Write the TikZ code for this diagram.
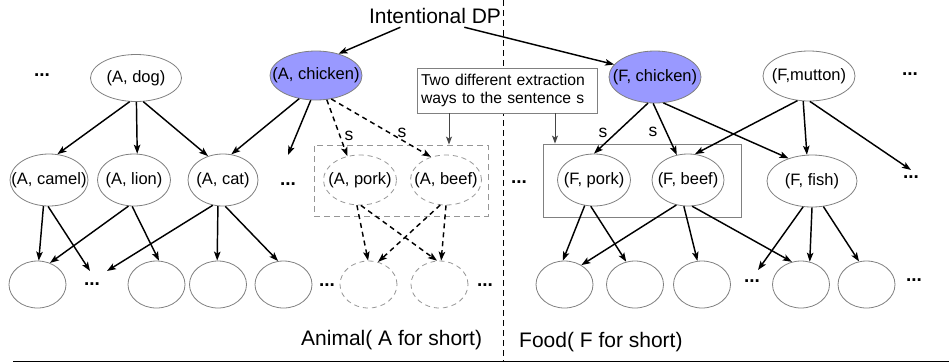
\documentclass[tikz,border=0pt]{standalone}
\usepackage{fontspec}
\setmainfont{Liberation Sans}
\usetikzlibrary{shapes.geometric,arrows.meta}
\definecolor{nodegray}{RGB}{128,128,128}
\definecolor{dashgray}{RGB}{150,150,150}
\definecolor{boxarrow}{RGB}{70,70,70}
\definecolor{chickfill}{RGB}{153,153,255}
\definecolor{baseline}{RGB}{192,192,192}
\newcommand{\zlab}[1]{\makebox[0pt]{#1}}
\begin{document}
\begin{tikzpicture}[x=1pt,y=-1pt,
  lblfont/.style={font=\fontsize{16.5}{18}\selectfont},
  ell/.style={ellipse, draw=nodegray, line width=0.8pt, inner sep=0pt, lblfont},
  dell/.style={ell, draw=dashgray, dash pattern=on 5pt off 4pt},
  leaf/.style={ell, minimum width=57pt, minimum height=47pt},
  dleaf/.style={dell, minimum width=57pt, minimum height=47pt},
  dots/.style={font=\fontsize{19}{20}\selectfont\bfseries, inner sep=0pt, anchor=base},
  arr/.style={-{Stealth[length=9pt,width=6.5pt,inset=2pt]}, line width=1.45pt, black},
  darr/.style={arr, dash pattern=on 5pt off 4pt},
  barr/.style={-{Stealth[length=8pt,width=6pt,inset=2pt]}, line width=1pt, boxarrow},
  slab/.style={font=\fontsize{17.5}{18}\selectfont, inner sep=0pt}
]
\useasboundingbox (0,0) rectangle (949,362);

% divider and base line
\draw[black, line width=0.9pt, dash pattern=on 6pt off 4pt] (503,0) -- (503,362);
\draw[baseline, line width=1.5pt] (13,361.3) -- (949,361.3);

% title
\node[font=\fontsize{21}{24}\selectfont] (dp) at (435,16) {Intentional DP};

% row 1
\node[ell, minimum width=91pt, minimum height=47pt] (dog) at (136,78) {\zlab{(A, dog)}};
\node[ell, fill=chickfill, minimum width=92pt, minimum height=49pt] (Ach) at (316,75.5) {\zlab{(A, chicken)}};
\node[ell, fill=chickfill, minimum width=92pt, minimum height=52pt] (Fch) at (655,77) {\zlab{(F, chicken)}};
\node[ell, minimum width=92pt, minimum height=50pt] (Fmu) at (809,76) {\zlab{(F,mutton)}};

% rectangles
\node[draw=dashgray, line width=0.9pt, dash pattern=on 6pt off 4pt, minimum width=174pt, minimum height=71pt, inner sep=0pt] (drect) at (401,180.5) {};
\node[draw=nodegray, line width=0.9pt, minimum width=198pt, minimum height=73pt, inner sep=0pt] (srect) at (642,180.5) {};
\node[draw=nodegray, line width=0.9pt, fill=white, text width=172pt, align=left, inner xsep=4pt, inner ysep=0pt, minimum height=45pt, font=\fontsize{15.7}{18}\selectfont] (info) at (507,90.5) {Two different extraction\\ways to the sentence s};

% row 2
\node[ell, minimum width=78pt, minimum height=52pt] (camel) at (49,180) {\zlab{(A, camel)}};
\node[ell, minimum width=73pt, minimum height=52pt] (lion) at (134,180) {\zlab{(A, lion)}};
\node[ell, minimum width=70pt, minimum height=52pt] (cat) at (223,180) {\zlab{(A, cat)}};
\node[dell, minimum width=73pt, minimum height=50pt] (Apork) at (360,180) {\zlab{(A, pork)}};
\node[dell, minimum width=71pt, minimum height=50pt] (Abeef) at (446,180) {\zlab{(A, beef)}};
\node[ell, minimum width=73pt, minimum height=52pt] (Fpork) at (594,180) {\zlab{(F, pork)}};
\node[ell, minimum width=72pt, minimum height=52pt] (Fbeef) at (688,180) {\zlab{(F, beef)}};
\node[ell, minimum width=90pt, minimum height=52pt] (Ffish) at (812,181) {\zlab{(F, fish)}};

% row 3
\node[leaf] (e1) at (37.5,284.5) {};
\node[leaf] (e2) at (156.5,284.5) {};
\node[leaf] (e3) at (218,284.5) {};
\node[leaf] (e4) at (283.5,284.5) {};
\node[dleaf] (e5) at (368.5,284.5) {};
\node[dleaf] (e6) at (439.5,284.5) {};
\node[leaf] (e7) at (564.5,284.5) {};
\node[leaf] (e8) at (635,284.5) {};
\node[leaf] (e9) at (702,284.5) {};
\node[leaf] (e10) at (801,284.5) {};
\node[leaf] (e11) at (866.5,284.5) {};

% dots
\node[dots] (d1) at (42,76) {...};
\node[dots] (d2) at (288,185) {...};
\node[dots] (d3) at (519,183) {...};
\node[dots] (d4) at (910,75) {...};
\node[dots] (d5) at (911,178) {...};
\node[dots] (d6) at (92,285) {...};
\node[dots] (d7) at (327,286) {...};
\node[dots] (d8) at (485,286) {...};
\node[dots] (d9) at (752,282) {...};
\node[dots] (d10) at (914,281) {...};

% free ends
\coordinate (c1) at (288,155);
\coordinate (c2) at (911,170);
\coordinate (c3) at (90,271);
\coordinate (c4) at (107,271);
\coordinate (c5) at (758,270);
\coordinate (a1) at (449,0);
\coordinate (a2) at (555,0);

% s labels
\node[slab] (s1) at (349,136) {s};
\node[slab] (s2) at (402,133) {s};
\node[slab] (s3) at (603,133) {s};
\node[slab] (s4) at (653,132) {s};

% bottom labels
\node[font=\fontsize{21}{24}\selectfont, anchor=west, inner sep=0pt] (anim) at (301,340) {Animal( A for short)};
\node[font=\fontsize{21}{24}\selectfont, anchor=west, inner sep=0pt] (food) at (519,342) {Food( F for short)};

% connectors
\draw[arr] (dp.-162) -- (Ach.44);
\draw[arr] (dp.-21) -- (Fch.163);
\draw[barr] (info.south -| a1) -- (drect.north -| a1);
\draw[barr] (info.south -| a2) -- (srect.north -| a2);

\draw[arr] (dog.-105) -- (camel.72);
\draw[arr] (dog.-89) -- (lion.83);
\draw[arr] (dog.-73) -- (cat.122);
\draw[arr] (Ach.-126) -- (cat.72);
\draw[arr] (Ach.-102) -- (c1);
\draw[darr] (Ach.-66) -- (Apork.118);
\draw[darr] (Ach.-57) -- (Abeef.123);
\draw[arr] (Fch.-105) -- (Fpork.90);
\draw[arr] (Fch.-94) -- (Fbeef.114);
\draw[arr] (Fch.-72) -- (Ffish.136);
\draw[arr] (Fmu.-115) -- (Fbeef.75);
\draw[arr] (Fmu.-103) -- (Ffish.101);
\draw[arr] (Fmu.-88) -- (c2);

\draw[arr] (camel.-102) -- (e1.87);
\draw[arr] (camel.-92) -- (c3);
\draw[arr] (lion.-102) -- (e1.60);
\draw[arr] (lion.-94) -- (e2.84);
\draw[arr] (cat.-112) -- (c4);
\draw[arr] (cat.-101) -- (e3.92);
\draw[arr] (cat.-85) -- (e4.103);
\draw[darr] (Apork.-97) -- (e5.91);
\draw[darr] (Apork.-88) -- (e6.96);
\draw[darr] (Abeef.-103) -- (e5.67);
\draw[darr] (Abeef.-90) -- (e6.86);
\draw[arr] (Fpork.-110) -- (e7.94);
\draw[arr] (Fpork.-97) -- (e8.111);
\draw[arr] (Fbeef.-115) -- (e7.49);
\draw[arr] (Fbeef.-99) -- (e9.101);
\draw[arr] (Fbeef.-81) -- (e10.112);
\draw[arr] (Ffish.-109) -- (c5);
\draw[arr] (Ffish.-90) -- (e10.69);
\draw[arr] (Ffish.-66) -- (e11.108);
\end{tikzpicture}
\end{document}
